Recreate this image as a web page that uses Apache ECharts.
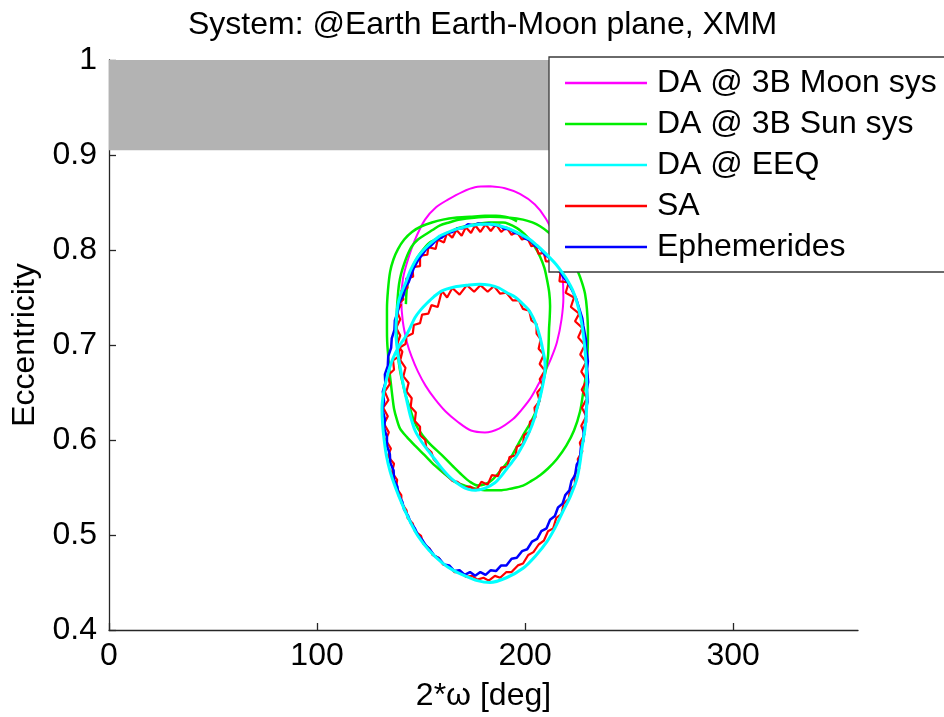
<!DOCTYPE html>
<html>
<head>
<meta charset="utf-8">
<script src="https://cdn.jsdelivr.net/npm/echarts@6/dist/echarts.min.js"></script>
<style>
  html, body { margin: 0; padding: 0; background: #ffffff; }
  #chart { width: 944px; height: 717px; }
</style>
</head>
<body>
<div id="chart"></div>
<script>
// Eccentricity vs 2*omega for XMM, Earth-Moon plane

const titleText = 'System: @Earth Earth-Moon plane, XMM';
const seriesNames = ['DA @ 3B Moon sys', 'DA @ 3B Sun sys', 'DA @ EEQ', 'SA', 'Ephemerides'];
const xTicks = [0, 100, 200, 300];
const yTicks = [0.4, 0.5, 0.6, 0.7, 0.8, 0.9, 1];
// eccentricity range shaded grey (perigee below the surface)
const reentryBand = [0.905, 1];

// [2*omega (deg), eccentricity]
const moonSys = [
  [183.1,0.867],[190.3,0.865],[197.5,0.859],[204.7,0.848],[210.0,0.833],[213.8,0.815],
  [216.5,0.795],[218.0,0.772],[218.4,0.750],[217.5,0.727],[215.3,0.703],[212.5,0.686],
  [209.6,0.672],[206.0,0.657],[202.3,0.643],[198.0,0.631],[194.2,0.622],[187.5,0.612],
  [180.7,0.608],[174.0,0.610],[167.7,0.619],[161.8,0.630],[156.7,0.643],[152.2,0.657],
  [148.5,0.672],[145.4,0.688],[143.2,0.703],[141.2,0.725],[140.5,0.748],[141.3,0.770],
  [143.7,0.790],[147.1,0.811],[151.9,0.832],[157.2,0.845],[162.9,0.853],[169.7,0.861],
  [175.9,0.866],[183.1,0.867]
];

const sunSys = [
  [142.7,0.743],[143.2,0.760],[144.7,0.774],[146.3,0.784],[148.5,0.793],[151.2,0.801],
  [154.3,0.808],[160.0,0.814],[167.7,0.823],[175.9,0.827],[182.5,0.829],[189.4,0.829],
  [196.1,0.823],[200.9,0.814],[204.5,0.804],[207.2,0.793],[209.3,0.781],[210.5,0.769],
  [211.6,0.755],[212.0,0.741],[211.8,0.728],[211.5,0.717],[211.3,0.702],[211.0,0.688],
  [210.0,0.674],[208.6,0.661],[207.3,0.647],[205.7,0.633],[202.3,0.617],[199.0,0.605],
  [195.8,0.592],[192.7,0.580],[187.9,0.567],[183.1,0.556],[177.4,0.552],[173.5,0.556],
  [169.7,0.563],[165.0,0.573],[160.0,0.584],[153.3,0.598],[148.5,0.612],[146.3,0.622],
  [144.7,0.633],[143.0,0.644],[141.8,0.654],[140.4,0.667],[139.4,0.680],[138.7,0.693],
  [138.4,0.706],[138.3,0.722],[138.4,0.738],[138.8,0.751],[139.4,0.764],[140.4,0.775],
  [141.8,0.785],[143.5,0.795],[145.6,0.804],[148.5,0.811],[151.9,0.816],[155.5,0.821],
  [159.1,0.826],[163.5,0.829],[168.7,0.832],[175.5,0.834],[183.1,0.835],[192.7,0.834],
  [199.0,0.832],[203.5,0.829],[207.2,0.825],[211.0,0.819],[215.3,0.811],[219.2,0.801],
  [222.5,0.790],[225.4,0.777],[227.3,0.766],[228.8,0.754],[229.7,0.738],[230.2,0.714],
  [230.1,0.697],[229.7,0.680],[229.0,0.665],[228.0,0.651],[226.4,0.630],[223.5,0.610],
  [219.8,0.594],[215.3,0.580],[211.0,0.570],[207.2,0.563],[203.0,0.557],[199.0,0.552],
  [193.5,0.549],[187.9,0.547],[181.5,0.547],[175.9,0.549],[171.0,0.552],[166.3,0.556],
  [161.5,0.564],[156.7,0.573],[151.7,0.584],[147.1,0.594],[143.2,0.603],[139.9,0.612],
  [138.3,0.622],[137.0,0.633],[136.2,0.646],[135.5,0.659],[134.7,0.675],[134.1,0.691],
  [133.7,0.704],[133.6,0.717],[133.6,0.738],[134.1,0.758],[135.1,0.777],[136.7,0.790],
  [138.9,0.801],[141.9,0.811],[145.6,0.819],[150.2,0.825],[155.2,0.829],[160.5,0.832],
  [166.3,0.834],[173.5,0.835],[180.7,0.836],[186.0,0.836],[190.3,0.835],[193.5,0.833],
  [196.1,0.830]
];

const eeqPath = [
  [159.1,0.815],[165.5,0.821],[172.5,0.825],[178.5,0.827],[184.1,0.827],[188.5,0.825],
  [192.7,0.822],[197.5,0.817],[202.3,0.811],[205.6,0.805],[208.6,0.799],[211.8,0.792],
  [214.8,0.785],[217.6,0.777],[220.1,0.769],[222.8,0.758],[224.9,0.745],[226.6,0.730],
  [227.8,0.714],[228.7,0.697],[229.3,0.680],[229.6,0.662],[229.7,0.643],[229.4,0.627],
  [228.8,0.612],[227.3,0.591],[226.3,0.575],[224.9,0.559],[221.8,0.541],[218.2,0.525],
  [214.5,0.508],[210.5,0.493],[205.0,0.478],[199.0,0.465],[191.0,0.455],[183.1,0.450],
  [177.0,0.452],[171.1,0.457],[165.3,0.463],[160.0,0.471],[153.8,0.484],[148.5,0.499],
  [144.3,0.516],[140.8,0.533],[137.7,0.550],[135.1,0.567],[133.3,0.584],[132.2,0.601],
  [131.5,0.617],[131.2,0.633],[132.0,0.650],[133.6,0.666],[135.3,0.679],[137.5,0.691],
  [139.8,0.700],[142.3,0.708],[144.7,0.718],[147.1,0.729],[149.8,0.737],[152.8,0.744],
  [156.2,0.751],[160.0,0.757],[166.0,0.761],[172.5,0.763],[178.0,0.764],[183.1,0.763],
  [187.5,0.760],[191.3,0.755],[195.5,0.750],[199.0,0.743],[201.7,0.737],[203.8,0.729],
  [205.7,0.719],[207.2,0.708],[208.6,0.694],[209.6,0.680],[209.4,0.669],[208.6,0.659],
  [207.3,0.646],[205.7,0.633],[204.2,0.621],[202.3,0.610],[199.5,0.597],[196.1,0.584],
  [193.8,0.577],[191.3,0.570],[188.5,0.562],[185.5,0.555],[180.5,0.549],[175.9,0.547],
  [172.8,0.548],[169.7,0.551],[164.7,0.559],[160.0,0.570],[156.5,0.580],[153.3,0.589],
  [150.0,0.599],[147.1,0.610],[144.9,0.625],[143.2,0.641],[141.4,0.659],[139.9,0.677],
  [138.6,0.695],[137.9,0.712],[138.1,0.728],[138.9,0.743],[140.3,0.754],[142.3,0.764],
  [145.0,0.779],[148.5,0.793],[153.5,0.805],[159.1,0.815]
];

const saOuterLap = [
  [138.9,0.743],[141.5,0.748],[140.5,0.757],[143.5,0.760],[142.8,0.770],[146.2,0.772],
  [145.8,0.782],[149.5,0.783],[149.5,0.794],[153.0,0.795],[153.5,0.803],[157.0,0.801],
  [158.0,0.811],[161.0,0.808],[162.5,0.818],[165.0,0.813],[167.0,0.821],[169.5,0.815],
  [171.5,0.824],[174.0,0.818],[176.0,0.826],[178.5,0.819],[181.0,0.827],[183.5,0.820],
  [186.0,0.827],[188.5,0.819],[191.0,0.824],[193.5,0.816],[196.0,0.819],[198.5,0.811],
  [201.0,0.813],[203.0,0.804],[205.0,0.805],[206.5,0.796],[209.0,0.797],[210.0,0.788],
  [213.0,0.788],[213.5,0.779],[217.0,0.777],[216.5,0.767],[221.0,0.766],[219.5,0.755],
  [223.5,0.750],[222.0,0.740],[226.0,0.733],[224.0,0.725],[227.5,0.718],[225.5,0.708],
  [228.7,0.700],[226.5,0.690],[229.3,0.682],[227.0,0.672],[229.6,0.663],[227.2,0.653],
  [229.7,0.644],[227.3,0.634],[229.4,0.625],[227.0,0.615],[228.6,0.606],[226.3,0.597],
  [227.5,0.588],[225.3,0.580],[226.0,0.570],[223.8,0.563],[224.0,0.553],[221.5,0.547],
  [221.0,0.538],[218.5,0.533],[217.5,0.522],[215.0,0.518],[213.5,0.507],[211.0,0.504],
  [209.0,0.494],[206.5,0.490],[204.0,0.482],[201.5,0.479],[199.0,0.470],[196.5,0.468],
  [193.5,0.461],[191.0,0.461],[188.0,0.455],[185.5,0.457],[182.5,0.452],[180.0,0.455],
  [177.0,0.453],[174.5,0.457],[171.5,0.456],[169.0,0.461],[166.0,0.461],[163.5,0.467],
  [160.5,0.469],[158.5,0.476],[155.5,0.479],[154.0,0.486],[151.0,0.491],[150.0,0.499],
  [147.0,0.504],[146.0,0.512],[143.5,0.518],[143.0,0.526],[140.5,0.534],[140.5,0.542],
  [138.0,0.550],[138.5,0.558],[136.0,0.566],[137.0,0.575],[134.0,0.583],[135.5,0.591],
  [133.0,0.600],[134.5,0.608],[132.2,0.617],[134.0,0.625],[131.8,0.634],[134.3,0.642],
  [132.5,0.651],[135.0,0.659],[134.0,0.668],[137.0,0.674],[136.5,0.684],[139.5,0.688],
  [139.5,0.697],[142.5,0.701],[143.0,0.709],[146.0,0.712],[146.5,0.721],[149.5,0.723],
  [150.5,0.732],[153.5,0.733],[155.0,0.742],[158.0,0.740]
];

const saInnerLap = [
  [160.0,0.757],[162.5,0.750],[165.0,0.760],[168.5,0.753],[172.0,0.763],[175.5,0.756],
  [178.5,0.763],[182.0,0.756],[185.0,0.762],[188.0,0.754],[191.0,0.755],[194.0,0.747],
  [197.0,0.747],[199.0,0.738],[202.0,0.736],[203.0,0.726],[205.5,0.722],[205.5,0.712],
  [207.5,0.706],[206.5,0.696],[209.0,0.690],[207.0,0.680],[209.5,0.673],[207.0,0.664],
  [208.5,0.657],[205.8,0.650],[207.0,0.641],[204.5,0.634],[205.0,0.624],[202.3,0.619],
  [202.3,0.609],[199.5,0.605],[199.0,0.596],[196.0,0.593],[195.5,0.584],[192.5,0.582],
  [191.5,0.572],[188.5,0.571],[187.0,0.562],[184.0,0.563],[182.0,0.553],[179.0,0.556],
  [176.5,0.547],[173.5,0.551],[170.5,0.550],[167.5,0.556],[165.0,0.557],[162.5,0.563],
  [160.0,0.569],[158.0,0.575],[156.0,0.580],[155.0,0.587],[152.5,0.592],[152.0,0.600],
  [149.5,0.605],[149.5,0.614],[147.0,0.620],[147.5,0.629],[145.0,0.635],[145.5,0.644],
  [143.0,0.651],[144.0,0.660],[141.5,0.667],[142.5,0.676],[140.0,0.684],[141.0,0.693],
  [138.5,0.701],[140.0,0.710],[138.0,0.718],[140.0,0.727],[138.5,0.735],[140.5,0.743]
];

const ephemerides = [
  [145.0,0.772],[146.5,0.781],[148.5,0.789],[150.5,0.795],[152.5,0.801],[155.0,0.805],
  [157.5,0.811],[160.0,0.813],[162.5,0.818],[165.0,0.819],[167.5,0.823],[170.0,0.823],
  [172.5,0.827],[175.0,0.826],[177.5,0.828],[180.0,0.827],[182.5,0.828],[185.0,0.826],
  [187.5,0.826],[190.0,0.822],[192.5,0.822],[195.0,0.818],[197.5,0.817],[200.0,0.812],
  [202.5,0.810],[205.0,0.804],[207.0,0.802],[209.5,0.795],[211.5,0.792],[214.0,0.784],
  [216.0,0.780],[218.5,0.771],[220.5,0.766],[222.5,0.758],[224.5,0.749],[225.5,0.742],
  [227.5,0.728],[228.0,0.720],[229.3,0.705],[229.3,0.697],[230.2,0.683],[229.8,0.675],
  [230.3,0.661],[229.7,0.653],[230.0,0.640],[229.2,0.632],[229.3,0.619],[228.2,0.611],
  [228.0,0.599],[226.8,0.592],[226.3,0.580],[224.8,0.574],[224.0,0.563],[222.3,0.557],
  [221.3,0.547],[219.3,0.542],[218.0,0.533],[215.8,0.529],[214.3,0.520],[212.0,0.516],
  [210.3,0.507],[207.8,0.504],[205.8,0.496],[203.3,0.493],[201.0,0.485],[198.5,0.483],
  [196.0,0.476],[193.5,0.475],[191.0,0.468],[188.5,0.468],[186.0,0.462],[183.5,0.463],
  [181.0,0.458],[178.5,0.461],[176.0,0.457],[173.5,0.461],[171.0,0.458],[168.5,0.463],
  [166.0,0.462],[163.5,0.468],[161.0,0.469],[158.8,0.475],[156.5,0.478],[154.5,0.484],
  [152.3,0.489],[150.5,0.495],[148.5,0.500],[147.0,0.507],[145.0,0.513],[143.8,0.520],
  [141.8,0.527],[141.0,0.535],[139.2,0.542],[138.6,0.551],[137.0,0.558],[136.8,0.568],
  [135.2,0.576],[135.0,0.585],[133.6,0.594],[133.6,0.603],[132.3,0.612],[132.6,0.622],
  [131.5,0.632],[132.2,0.641],[131.6,0.651],[132.8,0.660],[132.6,0.669],[134.0,0.678],
  [134.2,0.688],[135.6,0.697],[135.9,0.707],[137.2,0.716],[137.4,0.726],[138.8,0.735],
  [139.5,0.745],[141.5,0.752],[142.5,0.761],[144.0,0.766],[145.0,0.772]
];

const FONT = '"Liberation Sans", Arial, Helvetica, sans-serif';
const AXIS_COLOR = '#262626';

function curve(name, data, color, width, smooth, z) {
  return {
    name: name,
    type: 'line',
    data: data,
    symbol: 'none',
    smooth: smooth,
    z: z,
    itemStyle: { color: color },
    lineStyle: { color: color, width: width },
    emphasis: { disabled: true }
  };
}

const moonSeries = curve(seriesNames[0], moonSys, '#ff00ff', 2, 0.3, 2);
moonSeries.markArea = {
  silent: true,
  itemStyle: { color: '#b3b3b3' },
  data: [[{ xAxis: 0, yAxis: reentryBand[0] }, { xAxis: 360, yAxis: reentryBand[1] }]]
};

const chart = echarts.init(document.getElementById('chart'), null, { renderer: 'canvas' });
chart.setOption({
  animation: false,
  backgroundColor: '#ffffff',
  textStyle: { fontFamily: FONT },
  title: {
    text: titleText,
    left: 183,
    top: 4,
    textStyle: { fontFamily: FONT, fontSize: 32, fontWeight: 'normal', color: '#000' }
  },
  grid: { left: 109, right: 86, top: 60, bottom: 85, containLabel: false },
  legend: {
    orient: 'vertical',
    left: 549,
    top: 57,
    padding: [8, 60, 7, 16],
    itemWidth: 82,
    itemHeight: 2.5,
    itemGap: 5,
    icon: 'rect',
    selectedMode: false,
    backgroundColor: '#ffffff',
    borderColor: '#3a3a3a',
    borderWidth: 1.3,
    borderRadius: 0,
    data: seriesNames,
    textStyle: { fontFamily: FONT, fontSize: 32, lineHeight: 36, color: '#000', padding: [0, 0, 0, 5] }
  },
  xAxis: {
    type: 'value',
    min: 0,
    max: 360,
    interval: 100,
    name: '2*ω [deg]',
    nameLocation: 'middle',
    nameGap: 50,
    nameTextStyle: { fontFamily: FONT, fontSize: 32, color: '#000' },
    axisLine: { onZero: false, lineStyle: { color: AXIS_COLOR, width: 1.3 } },
    axisTick: { inside: true, length: 7, customValues: xTicks, lineStyle: { color: AXIS_COLOR, width: 1.3 } },
    axisLabel: { customValues: xTicks, fontFamily: FONT, fontSize: 32, color: '#000', margin: 10 },
    splitLine: { show: false }
  },
  yAxis: {
    type: 'value',
    min: 0.4,
    max: 1,
    interval: 0.1,
    name: 'Eccentricity',
    nameLocation: 'middle',
    nameGap: 60,
    nameTextStyle: { fontFamily: FONT, fontSize: 32, color: '#000' },
    axisLine: { onZero: false, lineStyle: { color: AXIS_COLOR, width: 1.3 } },
    axisTick: { inside: true, length: 7, customValues: yTicks, lineStyle: { color: AXIS_COLOR, width: 1.3 } },
    axisLabel: {
      customValues: yTicks,
      fontFamily: FONT, fontSize: 32, color: '#000', margin: 12,
      formatter: function (v) { return String(+v.toFixed(1)); }
    },
    splitLine: { show: false }
  },
  series: [
    moonSeries,
    curve(seriesNames[1], sunSys, '#00ee00', 2.5, 0.3, 2),
    curve(seriesNames[3], saOuterLap.concat(saInnerLap), '#ff0000', 2.2, false, 3),
    curve(seriesNames[4], ephemerides, '#0000ff', 2.5, false, 3),
    curve(seriesNames[2], eeqPath, '#00ffff', 3, 0.3, 4)
  ]
});
</script>
</body>
</html>
